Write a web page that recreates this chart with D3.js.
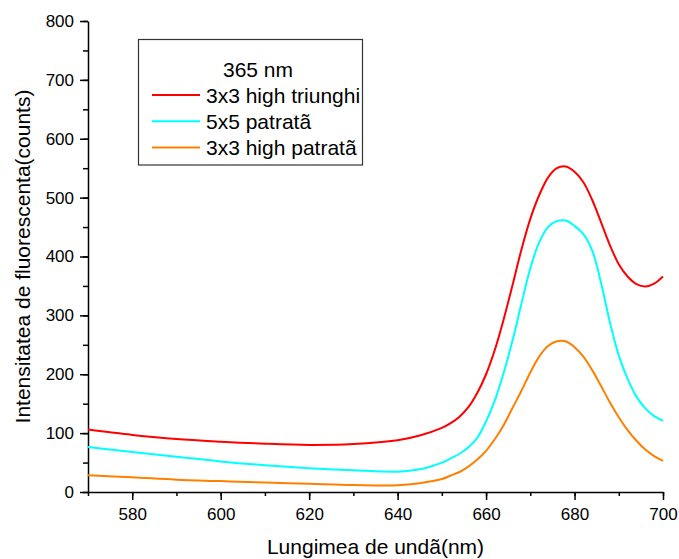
<!DOCTYPE html>
<html>
<head>
<meta charset="utf-8">
<script src="https://cdn.jsdelivr.net/npm/d3@7"></script>
<style>
  body { margin: 0; background: #fff; }
  svg { display: block; font-family: "Liberation Sans", Arial, sans-serif; }
</style>
</head>
<body>
<div id="chart"></div>
<script>
// Wavelength samples (nm) and intensities
const wavelengths = [570, 580, 590, 600, 610, 620, 630, 640, 645,
                     650, 652, 654, 656, 658, 660, 662, 664, 666, 668, 670, 672, 674,
                     676, 678, 680, 682, 684, 686, 688, 690, 692, 694, 696, 698, 700];

const triunghi3x3 = [106, 97, 90, 85.5, 82, 80, 81.5, 88, 96,
                     109, 117, 128, 144, 168, 200, 242, 294, 352, 412, 464, 504, 534,
                     550, 553, 544, 526, 496, 458, 419, 387, 366, 353, 349, 354, 366];

const patrata5x5  = [76.5, 68, 60, 52, 45.5, 40.5, 37, 34.5, 38.5,
                     50, 57, 65, 76, 92, 120, 156, 203, 258, 320, 380, 424, 450,
                     460, 461, 452, 438, 410, 355, 288, 232, 192, 162, 142, 129, 121];

const patrata3x3  = [28.4, 25, 21, 18.5, 16, 14, 12, 11.5, 15,
                     22, 28, 34, 43, 55, 70, 90, 114, 143, 172, 203, 230, 248,
                     256, 256, 246, 230, 207, 180, 152, 127, 105, 87, 72, 61, 53];

const seriesNames  = ["3x3 high triunghi", "5x5 patratã", "3x3 high patratã"];
const seriesColors = ["#ff0000", "#00ffff", "#ff8000"];
const xTicks = [580, 600, 620, 640, 660, 680, 700];
const yTicks = [0, 100, 200, 300, 400, 500, 600, 700, 800];

const width = 679, height = 559;
const margin = { top: 21, right: 16, bottom: 67, left: 88 };

const svg = d3.select("#chart").append("svg")
  .attr("width", width)
  .attr("height", height);

const x = d3.scaleLinear().domain([570, 700]).range([margin.left, width - margin.right]);
const y = d3.scaleLinear().domain([0, 800]).range([height - margin.bottom, margin.top]);

// minor ticks
svg.append("g")
  .attr("transform", `translate(0,${y(0)})`)
  .call(d3.axisBottom(x).tickValues(d3.range(570, 701, 10)).tickSize(4).tickFormat(""))
  .call(g => g.select(".domain").remove());
svg.append("g")
  .attr("transform", `translate(${x(570)},0)`)
  .call(d3.axisLeft(y).tickValues(d3.range(0, 801, 50)).tickSize(5).tickFormat(""))
  .call(g => g.select(".domain").remove());

// major axes
svg.append("g")
  .attr("transform", `translate(0,${y(0)})`)
  .call(d3.axisBottom(x).tickValues(xTicks).tickSize(8).tickSizeOuter(0).tickPadding(8));
svg.append("g")
  .attr("transform", `translate(${x(570)},0)`)
  .call(d3.axisLeft(y).tickValues(yTicks).tickSize(8).tickSizeOuter(0).tickPadding(6));

svg.selectAll(".tick line, .domain").attr("stroke", "#000").attr("stroke-width", 1.5);
svg.selectAll(".tick text").attr("font-size", 17).attr("fill", "#000")
  .attr("font-family", "'Liberation Sans', Arial, sans-serif");

// axis titles
svg.append("text")
  .attr("x", (x(570) + x(700)) / 2)
  .attr("y", 554)
  .attr("text-anchor", "middle")
  .attr("font-size", 21)
  .text("Lungimea de undã(nm)");

svg.append("text")
  .attr("transform", `translate(30,${(y(0) + y(800)) / 2}) rotate(-90)`)
  .attr("text-anchor", "middle")
  .attr("font-size", 21)
  .text("Intensitatea de fluorescenta(counts)");

// lines
const allSeries = [triunghi3x3, patrata5x5, patrata3x3];
const line = d3.line()
  .x((d, i) => x(wavelengths[i]))
  .y(d => y(d))
  .curve(d3.curveCatmullRom.alpha(0.5));

svg.append("g").selectAll("path")
  .data(allSeries)
  .join("path")
    .attr("d", line)
    .attr("fill", "none")
    .attr("stroke", (d, i) => seriesColors[i])
    .attr("stroke-width", 2);

// legend
const legend = svg.append("g");
legend.append("rect")
  .attr("x", 138.5).attr("y", 39.5)
  .attr("width", 224).attr("height", 125.5)
  .attr("fill", "none")
  .attr("stroke", "#333")
  .attr("stroke-width", 1.2);

legend.append("text")
  .attr("x", 258).attr("y", 77)
  .attr("text-anchor", "middle")
  .attr("font-size", 21)
  .text("365 nm");

seriesNames.forEach((name, i) => {
  const ly = 95 + i * 26.2;
  legend.append("line")
    .attr("x1", 152).attr("x2", 200)
    .attr("y1", ly).attr("y2", ly)
    .attr("stroke", seriesColors[i])
    .attr("stroke-width", 2);
  legend.append("text")
    .attr("x", 206).attr("y", ly + 8)
    .attr("font-size", 21)
    .text(name);
});
</script>
</body>
</html>
